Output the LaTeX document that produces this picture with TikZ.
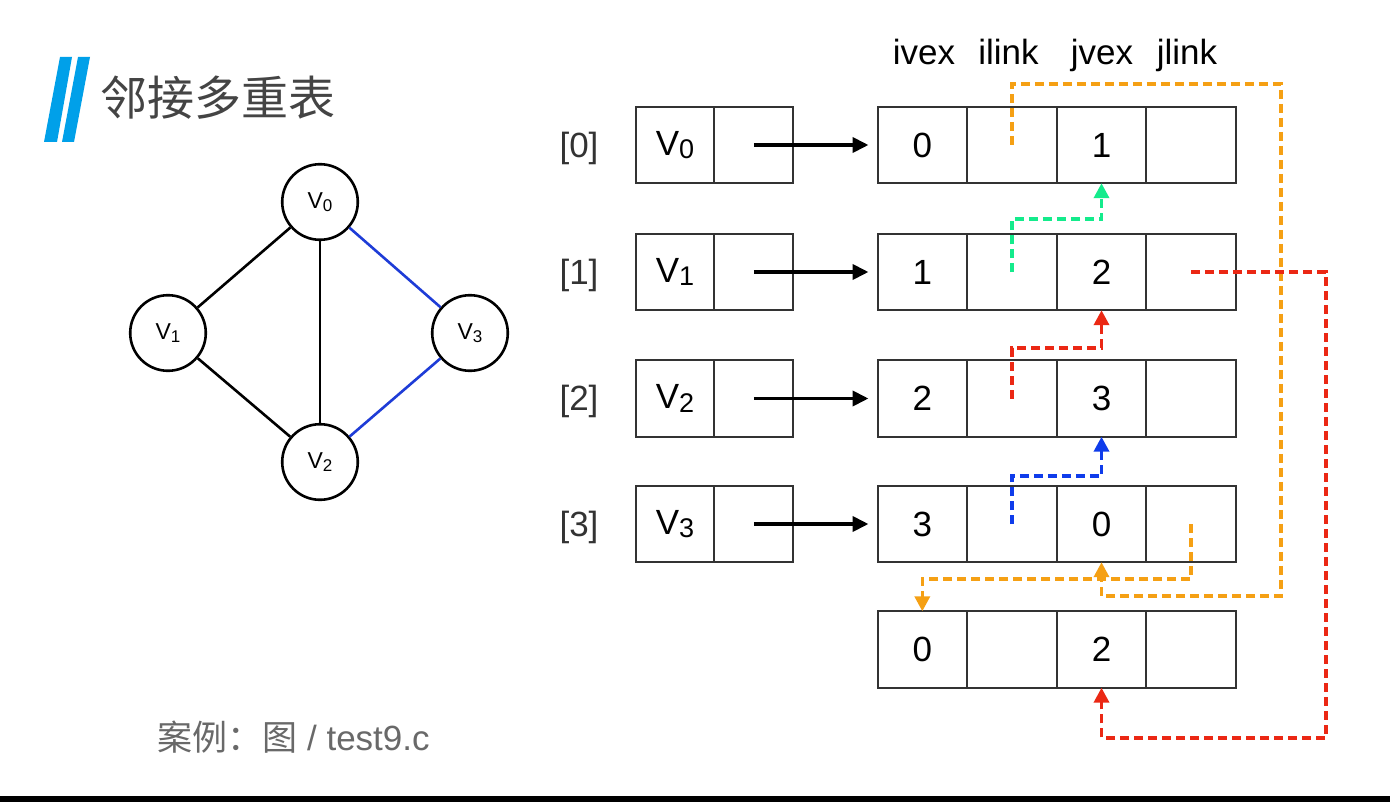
\documentclass[tikz,border=0pt]{standalone}
\usepackage{fontspec}
\setmainfont{Liberation Sans}
\newfontfamily\cjk{Noto Sans CJK SC}
\usetikzlibrary{arrows.meta,positioning}

\definecolor{slashblue}{RGB}{0,160,233}
\definecolor{titlegray}{RGB}{68,68,68}
\definecolor{notegray}{RGB}{105,105,105}
\definecolor{edgeblue}{RGB}{30,60,215}
\definecolor{lkorange}{RGB}{245,160,20}
\definecolor{lkgreen}{RGB}{20,235,140}
\definecolor{lkred}{RGB}{235,40,20}
\definecolor{lkblue}{RGB}{15,60,235}

% vertex names with a subscript
\newcommand{\Vt}[1]{V\raisebox{-1.7pt}{\fontsize{13.5}{13.5}\selectfont #1}}
\newcommand{\Vg}[1]{V\raisebox{-1.2pt}{\fontsize{8.5}{8.5}\selectfont #1}}

\begin{document}
\begin{tikzpicture}[x=0.5pt, y=-0.5pt,
    vertex/.style={circle, draw, line width=1.3pt, minimum size=37.8pt, inner sep=0pt, font=\fontsize{11.5}{11.5}\selectfont},
    cell/.style={rectangle, draw=black!80, line width=1pt, minimum width=44.8pt, minimum height=38.2pt, inner sep=0pt, outer sep=0pt, font=\fontsize{17.5}{17.5}\selectfont},
    vcell/.style={cell, minimum width=39.4pt},
    head/.style={font=\fontsize{17.5}{17.5}\selectfont, anchor=base, inner sep=0pt},
    arrow/.style={-{Triangle[length=8pt,width=7.5pt]}, line width=1.9pt},
    link/.style={-{Triangle[length=7.5pt,width=7.5pt]}, line width=1.8pt, dash pattern=on 4.5pt off 2.5pt}
]
\fill[white] (0,0) rectangle (1390,802);
\useasboundingbox (0,0) rectangle (1390,802);

% Title
\fill[slashblue] (60,57) -- (72,57) -- (57,142) -- (44,142) -- cycle;
\fill[slashblue] (78,57) -- (90,57) -- (74,142) -- (62,142) -- cycle;
\node[font=\cjk\fontsize{23.5}{23.5}\selectfont, text=titlegray, anchor=west, inner sep=0pt] (title) at (100,98) {邻接多重表};

% Graph
\node[vertex] (v0) at (320,202) {\Vg{0}};
\node[vertex] (v1) at (168,333) {\Vg{1}};
\node[vertex] (v3) at (470,333) {\Vg{3}};
\node[vertex] (v2) at (320,462) {\Vg{2}};
\draw[line width=1.3pt] (v0) -- (v1);
\draw[line width=1.3pt] (v0) -- (v2);
\draw[line width=1.3pt] (v1) -- (v2);
\draw[line width=1.3pt, edgeblue] (v0) -- (v3);
\draw[line width=1.3pt, edgeblue] (v3) -- (v2);

% Vertex table
\foreach \i/\y in {0/145,1/272,2/398.5,3/524} {
  \node[font=\fontsize{17.5}{17.5}\selectfont, text=black!80] (idx\i) at (579,\y+3) {[\i]};
  \node[vcell] (vd\i) at (675,\y) {\Vt{\i}};
  \node[vcell, right=0pt of vd\i] (vf\i) {};
}

% Edge table
\foreach \i/\y/\a/\b in {0/145/0/1,1/272/1/2,2/398.5/2/3,3/524/3/0,4/649.5/0/2} {
  \node[cell] (iv\i) at (922.3,\y) {\a};
  \node[cell, right=0pt of iv\i] (il\i) {};
  \node[cell, right=0pt of il\i] (jv\i) {\b};
  \node[cell, right=0pt of jv\i] (jl\i) {};
}

% Headers
\node[head] (hiv) at (924,65) {ivex};
\node[head] (hil) at (1008.5,65) {ilink};
\node[head] (hjv) at (1102,65) {jvex};
\node[head] (hjl) at (1187,65) {jlink};

% Firstedge arrows
\foreach \i in {0,...,3}
  \draw[arrow, shorten >=4.5pt] (vf\i.center) -- (iv\i.west);

% Links
\draw[link, lkorange] (il0.center) |- (1281,84) |- (jv3.south |- 0,596) -- (jv3.south);
\draw[link, lkgreen] (il1.center) |- (jv0.south |- 0,219) -- (jv0.south);
\draw[link, lkred] (il2.center) |- (jv1.south |- 0,348) -- (jv1.south);
\draw[link, lkblue] (il3.center) |- (jv2.south |- 0,476) -- (jv2.south);
\draw[link, lkorange] (jl3.center) |- (iv4.north |- 0,579) -- (iv4.north);
\draw[link, lkred] (jl1.center) -| (1326,738) -| (jv4.south);

% Note
\node[anchor=base west, inner sep=0pt, text=notegray, font=\fontsize{17.5}{17.5}\selectfont] (note) at (157,750) {{\cjk 案例：图} / test9.c};

% Bottom bar
\fill[black] (0,796) rectangle (1390,802);
\end{tikzpicture}
\end{document}
